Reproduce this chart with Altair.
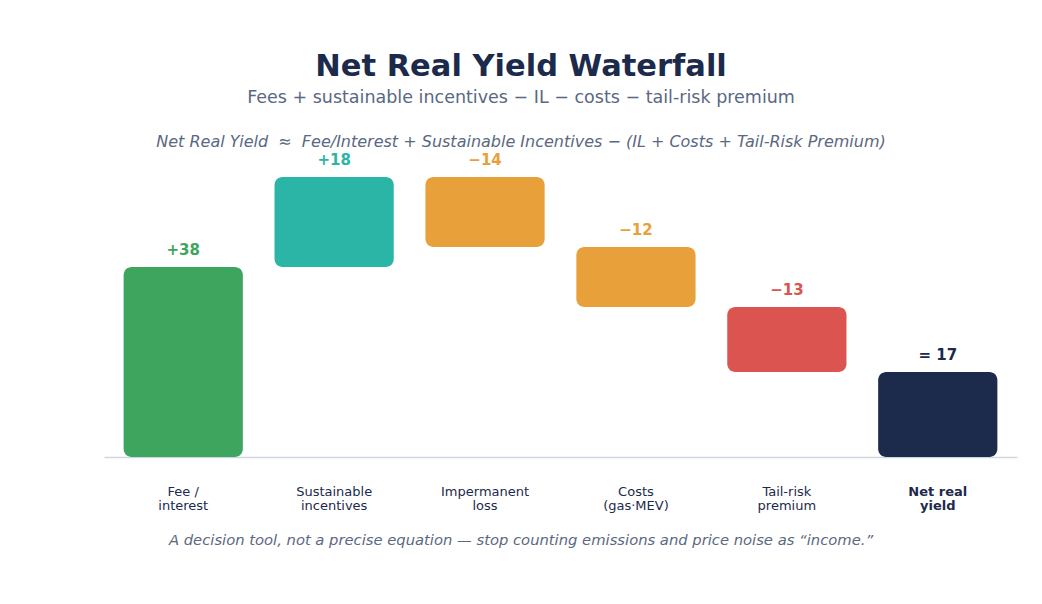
import altair as alt
import pandas as pd

# Waterfall steps
categories = ["Fee /|interest", "Sustainable|incentives", "Impermanent|loss",
              "Costs|(gas·MEV)", "Tail-risk|premium", "Net real|yield"]
deltas = [38, 18, -14, -12, -13, 17]
value_labels = ["+38", "+18", "−14", "−12", "−13", "= 17"]
is_total = [False, False, False, False, False, True]
colors = ["#3ea55e", "#2bb5a6", "#e8a03b", "#e8a03b", "#db5450", "#1c2a4b"]

title_text = "Net Real Yield Waterfall"
subtitle_text = "Fees + sustainable incentives − IL − costs − tail-risk premium"
# non-breaking spaces keep the wide gap around the ≈ sign
formula_text = "Net Real Yield \u00a0≈\u00a0 Fee/Interest + Sustainable Incentives − (IL + Costs + Tail-Risk Premium)"
footnote_text = "A decision tool, not a precise equation — stop counting emissions and price noise as “income.”"

# Running totals for the floating bars
rows = []
running = 0
for cat, d, lab, tot, col in zip(categories, deltas, value_labels, is_total, colors):
    if tot:
        start, end = 0, d
    else:
        start, end = running, running + d
        running = end
    rows.append({"cat": cat, "start": start, "end": end,
                 "top": max(start, end), "label": lab, "color": col})
df = pd.DataFrame(rows)

W, H = 913, 300
x_enc = alt.X(
    "cat:N", sort=categories, title=None,
    scale=alt.Scale(paddingInner=0.21, paddingOuter=0.13),
    axis=alt.Axis(
        labelExpr="split(datum.label, '|')",
        labelAngle=0, ticks=False, labelPadding=28,
        labelFontSize=13, labelColor="#1c2a4b", labelFont="DejaVu Sans",
        labelLineHeight=14,
        labelFontWeight={"condition": {"test": "datum.value == 'Net real|yield'", "value": "bold"},
                         "value": "normal"},
        domainColor="#cdd7e4", domainWidth=1.5, grid=False,
    ),
)
y_scale = alt.Scale(domain=[0, 60])

base = alt.Chart(df)
bars = base.mark_bar(cornerRadius=8).encode(
    x=x_enc,
    y=alt.Y("start:Q", scale=y_scale, axis=None),
    y2="end:Q",
    color=alt.Color("color:N", scale=None),
)
labels = base.mark_text(dy=-17, baseline="middle", fontSize=15, fontWeight="bold",
                        font="DejaVu Sans").encode(
    x=alt.X("cat:N", sort=categories),
    y=alt.Y("top:Q", scale=y_scale),
    text="label:N",
    color=alt.Color("color:N", scale=None),
)


def note(txt, y, size, color, weight="normal", style="normal"):
    return alt.Chart(pd.DataFrame({"t": [txt]})).mark_text(
        fontSize=size, fontWeight=weight, fontStyle=style, color=color,
        font="DejaVu Sans", baseline="middle", align="center",
    ).encode(x=alt.value(417), y=alt.value(y), text="t:N")


title = note(title_text, -90, 30.5, "#1c2a4b", weight="bold")
subtitle = note(subtitle_text, -59, 17.5, "#5a6882")
formula = note(formula_text, -15, 16, "#5a6882", style="italic")
footnote = note(footnote_text, 384, 14.75, "#5a6882", style="italic")

chart = alt.layer(bars, labels, title, subtitle, formula, footnote).properties(
    width=W, height=H,
    autosize=alt.AutoSizeParams(type="none"),
    padding={"left": 104, "top": 157, "right": 25, "bottom": 147},
    background="white",
).configure_view(stroke=None)

chart.save("out.html", embed_options={"renderer": "svg", "actions": False})
